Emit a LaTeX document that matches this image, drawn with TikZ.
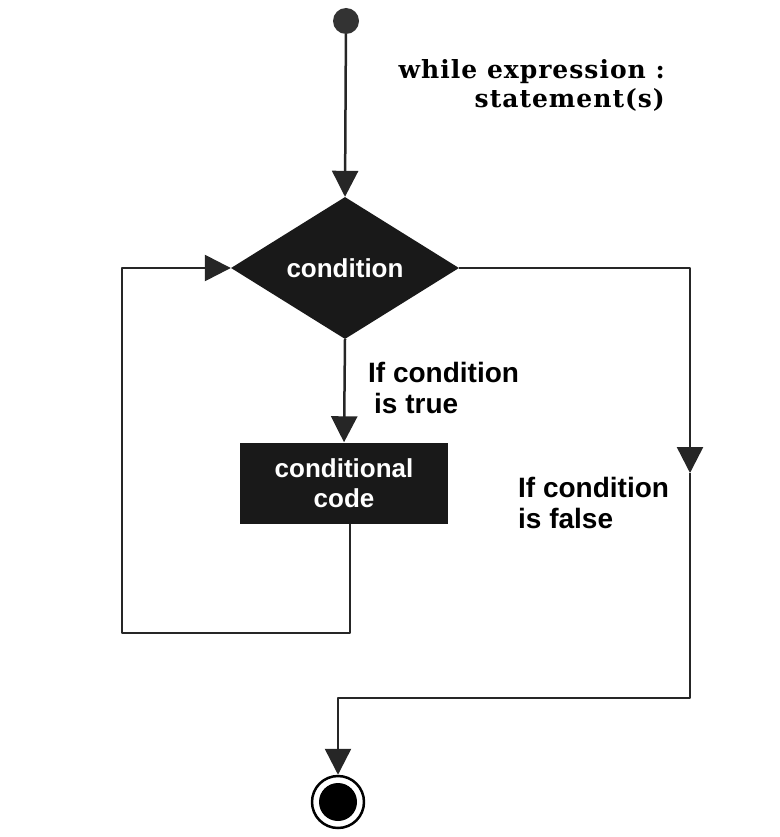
\documentclass[tikz,border=0pt]{standalone}
\usepackage{fontspec}
\setmainfont{Liberation Sans}
\newfontfamily\syntaxfont[LetterSpace=4]{DejaVu Serif}
\usetikzlibrary{shapes.geometric,arrows.meta,positioning}
\begin{document}
\begin{tikzpicture}[x=1pt,y=-1pt,>={Triangle[width=26pt,length=26pt]},line join=round,
		link/.style={draw=black!85,line width=2.5pt},
		decision/.style={diamond,fill=black!90,text=white,minimum width=228pt,minimum height=142pt,inner sep=0pt,font=\fontsize{26}{30}\selectfont\bfseries},
		block/.style={rectangle,fill=black!90,text=white,minimum width=208pt,minimum height=81pt,align=center,font=\fontsize{26}{30}\selectfont\bfseries},
		note/.style={align=left,inner sep=0pt,font=\fontsize{28}{31}\selectfont\bfseries},
		startdot/.style={circle,fill=black!80,minimum size=26pt,inner sep=0pt},
		stopdot/.style={circle,draw=black,line width=2.5pt,minimum size=52pt,inner sep=0pt,
			path picture={\fill[black] (path picture bounding box.center) circle (19pt);}}]
		\useasboundingbox (0,0) rectangle (779,837);
		% nodes
		\node[startdot] (start) at (346,21) {};
		\node[decision] (cond) at (345,268) {condition};
		\node[block] (code) at (344,483) {conditional\\code};
		\node[stopdot] (stop) at (338,802) {};
		\coordinate (loop) at (122,633);
		\coordinate (fmid) at (690,473);
		\coordinate (fbot) at (690,698);
		% connectors
		\draw[link,->] (start) -- (cond.north);
		\draw[link,->] (cond.south) -- (code.north);
		\draw[link,->] (code.south) ++(6,0) |- (loop) |- (cond.west);
		\draw[link,->] (cond.east) -| (fmid);
		\draw[link,->] (fmid) -- (fbot) -| (stop.north);
		% labels
		\node[anchor=north east,align=right,inner sep=0pt,font=\syntaxfont\bfseries\fontsize{25}{29}\selectfont] (syntax) at (665,59) {while expression :\\statement(s)};
		\node[note,anchor=north west] (truelbl) at (368,362) {If condition\\\hspace{6pt}is true};
		\node[note,anchor=north west] (falselbl) at (518,477) {If condition\\is false};
\end{tikzpicture}
\end{document}
